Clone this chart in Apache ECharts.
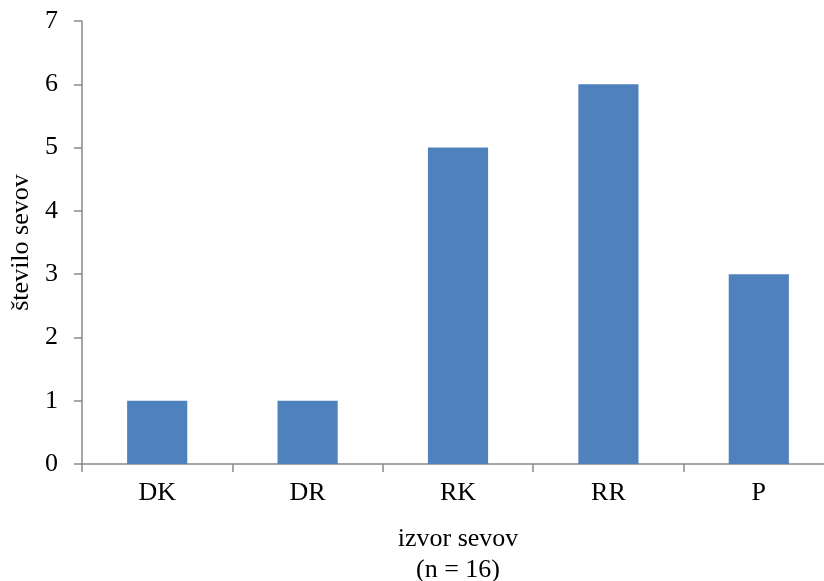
<!DOCTYPE html>
<html>
<head>
<meta charset="utf-8">
<script src="https://cdn.jsdelivr.net/npm/echarts@6/dist/echarts.min.js"></script>
<style>html,body{margin:0;padding:0;background:#fff}#c{width:824px;height:581px}</style>
</head>
<body>
<div id="c"></div>
<script>
const categories = ['DK', 'DR', 'RK', 'RR', 'P'];
const values = [1, 1, 5, 6, 3];
const yTicks = [0, 1, 2, 3, 4, 5, 6, 7];
const xName = 'izvor sevov\n(n = 16)';
const yName = 'število sevov';

const font = '"Liberation Serif", "Times New Roman", serif';
const axisColor = '#898989';
const chart = echarts.init(document.getElementById('c'), null, {renderer: 'canvas'});
chart.setOption({
  animation: false,
  grid: {left: 82, top: 21, width: 752, height: 443, containLabel: false, outerBoundsMode: 'none'},
  xAxis: {
    type: 'category',
    data: categories,
    name: xName,
    nameLocation: 'middle',
    nameGap: 60,
    nameTextStyle: {fontFamily: font, fontSize: 26, color: '#000', lineHeight: 31},
    axisLine: {lineStyle: {color: axisColor, width: 1.5}},
    axisTick: {show: true, alignWithLabel: false, length: 8, lineStyle: {color: axisColor, width: 1.5}},
    axisLabel: {fontFamily: font, fontSize: 26, color: '#000', margin: 16},
    splitLine: {show: false}
  },
  yAxis: {
    type: 'value',
    min: yTicks[0],
    max: yTicks[yTicks.length - 1],
    interval: 1,
    name: yName,
    nameLocation: 'middle',
    nameGap: 45,
    nameTextStyle: {fontFamily: font, fontSize: 26, color: '#000'},
    axisLine: {show: true, lineStyle: {color: axisColor, width: 1.5}},
    axisTick: {show: true, length: 8, lineStyle: {color: axisColor, width: 1.5}},
    axisLabel: {fontFamily: font, fontSize: 26, color: '#000', margin: 24},
    splitLine: {show: false}
  },
  series: [{
    type: 'bar',
    data: values,
    barCategoryGap: '60%',
    itemStyle: {color: '#4F81BD'}
  }]
});
</script>
</body>
</html>
